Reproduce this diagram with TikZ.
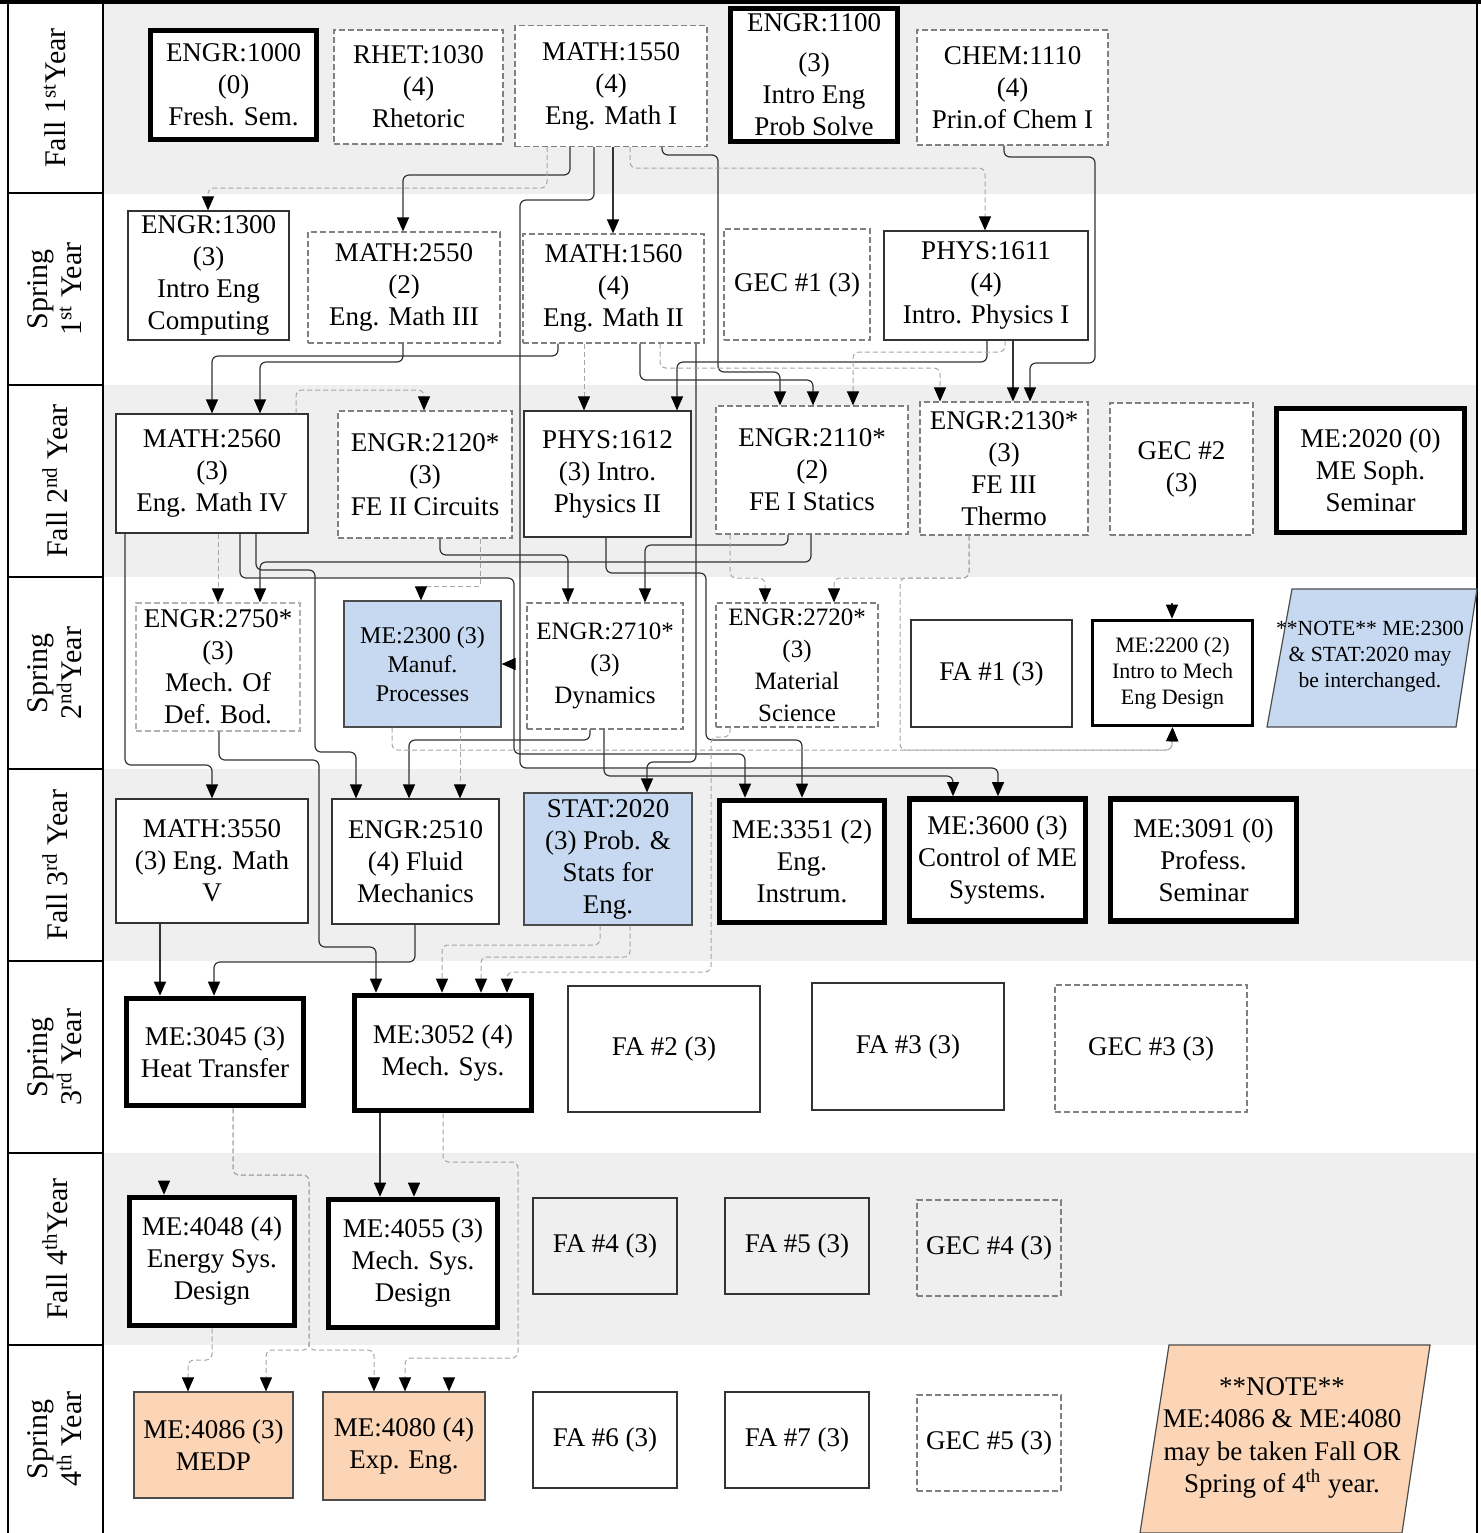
\documentclass[tikz,border=0pt]{standalone}
\usepackage{fontspec}
\setmainfont{Liberation Serif}
\usetikzlibrary{arrows.meta,positioning}
\definecolor{band}{HTML}{EFEFEF}
\definecolor{noteblue}{HTML}{C6D9F1}
\definecolor{noteorange}{HTML}{FBD5B5}
\tikzset{course/.style={draw=black!80,line width=0.6pt,fill=white,align=center,inner sep=1pt,font=\fontsize{13.5}{16}\selectfont},
	gen/.style={course,draw=black!50,dash pattern=on 3pt off 1.5pt},
	major/.style={course,draw=black,line width=2.8pt},
	dims/.style 2 args={minimum width=#1*0.5pt,minimum height=#2*0.5pt},
	req/.style={->,draw=black!80,line width=0.6pt,rounded corners=3pt},
	coreq/.style={->,draw=black!35,line width=0.5pt,dash pattern=on 2.5pt off 1.5pt,rounded corners=3pt},
	semester/.style={rotate=90,align=center,font=\fontsize{15}{17}\selectfont}}
\begin{document}
\begin{tikzpicture}[x=0.5pt,y=-0.5pt,>={Triangle[width=6pt,length=7pt,color=black]}]
\useasboundingbox (0,0) rectangle (1481,1533);
% fall semesters shaded
\foreach \y in {2,385,769,1153}
	\fill[band] (103,\y) rectangle (1477,\y+192);
\draw[line width=0.6pt] (8,2) -- (8,1533) (103,2) -- (103,1533) (1477,2) -- (1477,1533);
\foreach \y in {193,385,577,769,961,1153,1345}
	\draw[line width=0.6pt] (8,\y) -- (103,\y);
\draw[line width=1.6pt] (0,2) -- (1481,2);
\node[semester] (s1) at (55,98) {Fall 1\textsuperscript{st}Year};
\node[semester] (s2) at (55,289) {Spring\\1\textsuperscript{st} Year};
\node[semester] (s3) at (55,481) {Fall 2\textsuperscript{nd} Year};
\node[semester] (s4) at (55,673) {Spring\\2\textsuperscript{nd}Year};
\node[semester] (s5) at (55,865) {Fall 3\textsuperscript{rd} Year};
\node[semester] (s6) at (55,1057) {Spring\\3\textsuperscript{rd} Year};
\node[semester] (s7) at (55,1249) {Fall 4\textsuperscript{th}Year};
\node[semester] (s8) at (55,1439) {Spring\\4\textsuperscript{th} Year};

% fall 1st year
\node[major,dims={166}{109}] (e1000) at (233.5,85) {ENGR:1000\\(0)\\Fresh. Sem.};
\node[gen,dims={169}{114}] (r1030) at (418.5,87) {RHET:1030\\(4)\\Rhetoric};
\node[gen,dims={192}{121}] (m1550) at (611,86) {MATH:1550\\(4)\\Eng. Math I};
\node[major,dims={167}{133}] (e1100) at (814,75) {ENGR:1100\\[4pt](3)\\Intro Eng\\Prob Solve};
\node[gen,dims={191}{115}] (c1110) at (1012.5,87.5) {CHEM:1110\\(4)\\Prin.of Chem I};
% spring 1st year
\node[course,dims={161}{129}] (e1300) at (208.5,275.5) {ENGR:1300\\(3)\\Intro Eng\\Computing};
\node[gen,dims={192}{111}] (m2550) at (404,287.5) {MATH:2550\\(2)\\Eng. Math III};
\node[gen,dims={181}{109}] (m1560) at (613.5,288.5) {MATH:1560\\(4)\\Eng. Math II};
\node[gen,dims={146}{111}] (gec1) at (797,284.5) {GEC \#1 (3)};
\node[course,dims={204}{109}] (p1611) at (986,285.5) {PHYS:1611\\(4)\\Intro. Physics I};
% fall 2nd year
\node[course,dims={192}{119}] (m2560) at (212,473.5) {MATH:2560\\(3)\\Eng. Math IV};
\node[gen,dims={174}{127}] (e2120) at (425,474.5) {ENGR:2120*\\(3)\\FE II Circuits};
\node[course,dims={167}{126}] (p1612) at (607.5,474) {PHYS:1612\\(3) Intro.\\Physics II};
\node[gen,dims={192}{128}] (e2110) at (812,470) {ENGR:2110*\\(2)\\FE I Statics};
\node[gen,dims={168}{133}] (e2130) at (1004,468.5) {ENGR:2130*\\(3)\\FE III\\Thermo};
\node[gen,dims={143}{132}] (gec2) at (1181.5,469) {GEC \#2\\(3)};
\node[major,dims={188}{124}] (me2020) at (1370.5,470.5) {ME:2020 (0)\\ME Soph.\\Seminar};
% spring 2nd year
\node[gen,draw=black!30,dims={164}{128}] (e2750) at (218,667) {ENGR:2750*\\(3)\\Mech. Of\\Def. Bod.};
\node[course,fill=noteblue,draw=black!70,dims={157}{126},font=\fontsize{12}{14.5}\selectfont] (me2300) at (422.5,664) {ME:2300 (3)\\Manuf.\\Processes};
\node[gen,dims={156}{126},font=\fontsize{12.5}{16}\selectfont] (e2710) at (605,666) {ENGR:2710*\\(3)\\Dynamics};
\node[gen,dims={162}{124},font=\fontsize{12.5}{16}\selectfont] (e2720) at (797,665) {ENGR:2720*\\(3)\\Material\\Science};
\node[course,dims={161}{107}] (fa1) at (991.5,673.5) {FA \#1 (3)};
\node[major,line width=1.8pt,dims={160}{105},font=\fontsize{11}{13}\selectfont] (me2200) at (1172.5,673) {ME:2200 (2)\\Intro to Mech\\Eng Design};
\filldraw[fill=noteblue,draw=black!70,line width=0.6pt] (1292,589) -- (1477,589) -- (1456,727) -- (1267,727) -- cycle;
\node[align=center,font=\fontsize{10.8}{13}\selectfont] (note1) at (1370,657) {**NOTE** ME:2300\\\& STAT:2020 may\\be interchanged.};
% fall 3rd year
\node[course,dims={192}{124}] (m3550) at (212,861) {MATH:3550\\(3) Eng. Math\\V};
\node[course,dims={167}{125}] (e2510) at (415.5,861.5) {ENGR:2510\\(4) Fluid\\Mechanics};
\node[course,fill=noteblue,draw=black!70,dims={168}{132}] (s2020) at (608,859) {STAT:2020\\(3) Prob. \&\\Stats for\\Eng.};
\node[major,dims={165}{122}] (me3351) at (802,861.5) {ME:3351 (2)\\Eng.\\Instrum.};
\node[major,dims={176}{122}] (me3600) at (997.5,860) {ME:3600 (3)\\Control of ME\\Systems.};
\node[major,dims={186}{122}] (me3091) at (1203.5,860) {ME:3091 (0)\\Profess.\\Seminar};
% spring 3rd year
\node[major,dims={177}{107}] (me3045) at (215,1052) {ME:3045 (3)\\Heat Transfer};
\node[major,dims={177}{115}] (me3052) at (443,1053) {ME:3052 (4)\\Mech. Sys.};
\node[course,dims={192}{126}] (fa2) at (664,1049) {FA \#2 (3)};
\node[course,dims={192}{127}] (fa3) at (908,1046.5) {FA \#3 (3)};
\node[gen,dims={192}{127}] (gec3) at (1151,1048.5) {GEC \#3 (3)};
% fall 4th year
\node[major,dims={165}{128}] (me4048) at (212,1261.5) {ME:4048 (4)\\Energy Sys.\\Design};
\node[major,dims={169}{128}] (me4055) at (413,1263.5) {ME:4055 (3)\\Mech. Sys.\\Design};
\node[course,fill=none,dims={144}{96}] (fa4) at (605,1246) {FA \#4 (3)};
\node[course,fill=none,dims={144}{96}] (fa5) at (797,1246) {FA \#5 (3)};
\node[gen,fill=none,dims={144}{96}] (gec4) at (989,1248) {GEC \#4 (3)};
% spring 4th year
\node[course,fill=noteorange,draw=black!70,dims={159}{106}] (me4086) at (213.5,1445) {ME:4086 (3)\\MEDP};
\node[course,fill=noteorange,draw=black!70,dims={162}{108}] (me4080) at (404,1446) {ME:4080 (4)\\Exp. Eng.};
\node[course,dims={144}{96}] (fa6) at (605,1440) {FA \#6 (3)};
\node[course,dims={144}{96}] (fa7) at (797,1440) {FA \#7 (3)};
\node[gen,dims={144}{96}] (gec5) at (989,1443) {GEC \#5 (3)};
\filldraw[fill=noteorange,draw=black!70,line width=0.6pt] (1169,1345) -- (1430,1345) -- (1402,1533) -- (1140,1533) -- cycle;
\node[align=center,font=\fontsize{13.5}{16.2}\selectfont] (note2) at (1282,1438) {**NOTE**\\ME:4086 \& ME:4080\\may be taken Fall OR\\Spring of 4\textsuperscript{th} year.};

% prerequisites
\draw[req] (m1550.south -| 570,0) |- (403,175) -- (m2550.north -| 403,0);
\draw[req] (m1550.south -| 594,0) |- (520,200) |- (998,768) -- (me3600.north -| 998,0);
\draw[req] (m1550.south -| 613,0) -- (m1560.north -| 613,0);
\draw[req] (m1550.south -| 662,0) |- (718,155) |- (780,372) -- (e2110.north -| 780,0);
\draw[req] (c1110.south -| 1004,0) |- (1095,157) |- (1030,363) -- (e2130.north -| 1030,0);
\draw[req] (p1611.south -| 1013,0) -- (e2130.north -| 1013,0);
\draw[req] (p1611.south -| 987,0) |- (677,362) -- (p1612.north -| 677,0);
\draw[req] (m2550.south -| 403,0) |- (260,362) -- (m2560.north -| 260,0);
\draw[req] (m1560.south -| 558,0) |- (212,356) -- (m2560.north -| 212,0);
\draw[req] (m1560.south -| 640,0) |- (813,380) -- (e2110.north -| 813,0);
\draw[req] (m1560.south -| 696,0) |- (647,762) -- (s2020.north -| 647,0);
\draw[req] (e2110.south -| 811,0) |- (260,562) -- (e2750.north -| 260,0);
\draw[req] (e2110.south -| 788,0) |- (645,545) -- (e2710.north -| 645,0);
\draw[req] (e2120.south -| 440,0) |- (568,555) -- (e2710.north -| 568,0);
\draw[req] (p1612.south -| 606,0) |- (706,573) |- (802,740) -- (me3351.north -| 802,0);
\draw[req] (m2560.south -| 240,0) |- (514,578) |- (745,754) -- (me3351.north -| 745,0);
\coordinate (tap2300) at (514,664);
\draw[req] (tap2300) -- (me2300.east);
\draw[req] (m2560.south -| 125,0) |- (212,765) -- (m3550.north -| 212,0);
\draw[req] (m2560.south -| 256,0) |- (315,570) |- (356,752) -- (e2510.north -| 356,0);
\draw[req] (e2750.south -| 219,0) |- (319,760) |- (376,947) -- (me3052.north -| 376,0);
\draw[req] (e2710.south -| 590,0) |- (409,740) -- (e2510.north -| 409,0);
\draw[req] (e2710.south -| 604,0) |- (953,776) -- (me3600.north -| 953,0);
\draw[req] (m3550.south -| 160,0) -- (me3045.north -| 160,0);
\draw[req] (e2510.south -| 415,0) |- (214,962) -- (me3045.north -| 214,0);
\draw[req] (me3052.south -| 380,0) -- (me4055.north -| 380,0);
\coordinate (up2200) at (1172,603);
\coordinate (up4048) at (164,1181);
\coordinate (up4055) at (414,1183);
\coordinate (up4080) at (449,1378);
\draw[req] (up2200) -- (me2200.north -| 1172,0);
\draw[req] (up4048) -- (me4048.north -| 164,0);
\draw[req] (up4055) -- (me4055.north -| 414,0);
\draw[req] (up4080) -- (me4080.north -| 449,0);

% co-requisites
\draw[coreq] (m1550.south -| 547,0) |- (208,188) -- (e1300.north -| 208,0);
\draw[coreq] (m1550.south -| 630,0) |- (985,168) -- (p1611.north -| 985,0);
\draw[coreq] (m1560.south -| 584,0) -- (p1612.north -| 584,0);
\draw[coreq] (p1611.south -| 1005,0) |- (853,352) -- (e2110.north -| 853,0);
\draw[coreq] (m1560.south -| 660,0) |- (940,368) -- (e2130.north -| 940,0);
\draw[coreq] (m2560.north -| 296,0) |- (424,390) -- (e2120.north -| 424,0);
\draw[coreq] (m2560.south -| 218,0) -- (e2750.north -| 218,0);
\draw[coreq,sharp corners] (e2120.south -| 480,0) |- (421,586) -- (me2300.north -| 421,0);
\draw[coreq] (e2110.south -| 730,0) |- (765,578) -- (e2720.north -| 765,0);
\draw[coreq] (e2130.south -| 969,0) |- (834,578) -- (e2720.north -| 834,0);
\draw[coreq] (e2130.south -| 969,0) |- (900,578) |- (1172,750) -- (me2200.south);
\draw[coreq] (me2300.south -| 392,0) |- (1172,750) -- (me2200.south);
\draw[coreq] (me2300.south -| 460,0) -- (e2510.north -| 460,0);
\draw[coreq] (s2020.south -| 600,0) |- (442,945) -- (me3052.north -| 442,0);
\draw[coreq] (s2020.south -| 630,0) |- (481,957) -- (me3052.north -| 481,0);
\draw[coreq] (e2720.south -| 730,0) |- (711,737) |- (507,972) -- (me3052.north -| 507,0);
\draw[coreq] (me3045.south -| 233,0) |- (309,1175) |- (374,1350) -- (me4080.north -| 374,0);
\draw[coreq] (me3045.south -| 233,0) |- (309,1175) |- (266,1350) -- (me4086.north -| 266,0);
\draw[coreq] (me3052.south -| 443,0) |- (518,1162) |- (405,1358) -- (me4080.north -| 405,0);
\draw[coreq] (me4048.south -| 212,0) |- (188,1360) -- (me4086.north -| 188,0);
\end{tikzpicture}
\end{document}
